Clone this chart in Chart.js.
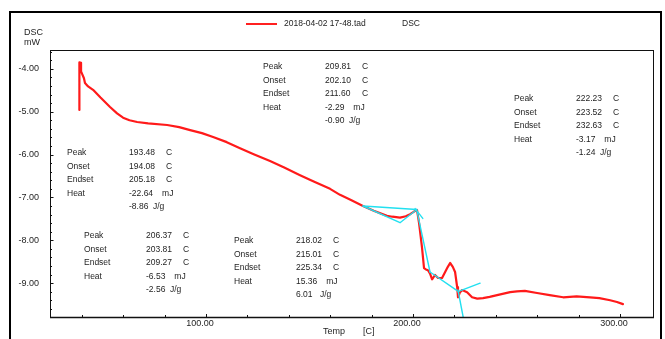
<!DOCTYPE html>
<html>
<head>
<meta charset="utf-8">
<title>DSC 2018-04-02 17-48</title>
<script src="https://cdn.jsdelivr.net/npm/chart.js@4.4.1/dist/chart.umd.min.js"></script>
<style>
  html, body { margin: 0; padding: 0; background: #fff; }
  #wrap { width: 665px; height: 339px; position: relative; }
</style>
</head>
<body>
<div id="wrap"><canvas id="dsc" width="665" height="339"></canvas></div>
<script>
// DSC trace: sample temperature [C] and heat flow [mW]
const tempC = [
  38.8, 38.8, 39.6, 39.6, 41.0, 41.5, 43.0, 45.4, 49.0, 53.6,
  57.0, 59.9, 63.0, 66.7, 72.0, 81.2, 87.0, 92.3, 98.0, 103.4,
  110.0, 116.4, 123.0, 130.9, 138.0, 145.4, 152.0, 159.9, 164.7, 170.0,
  175.8, 181.0, 187.4, 190.0, 193.7, 196.5, 198.6, 200.5, 201.9, 202.9,
  204.3, 205.3, 206.2, 207.2, 208.2, 209.2, 210.6, 212.1, 214.0, 215.5,
  216.8, 217.9, 219.2, 220.3, 221.3, 221.7, 222.6, 223.7, 226.1, 228.5,
  231.0, 233.8, 237.0, 240.6, 246.9, 250.2, 254.0, 259.9, 266.0, 272.5,
  279.0, 285.5, 290.0, 295.2, 298.5, 301.4
];
const dscMw = [
  -4.96, -3.85, -3.86, -4.06, -4.22, -4.33, -4.41, -4.49, -4.67, -4.89,
  -5.04, -5.14, -5.20, -5.24, -5.27, -5.31, -5.36, -5.43, -5.50, -5.59,
  -5.71, -5.85, -5.99, -6.15, -6.31, -6.48, -6.63, -6.80, -6.94, -7.06,
  -7.20, -7.31, -7.43, -7.45, -7.47, -7.44, -7.39, -7.33, -7.29, -7.60,
  -8.16, -8.65, -8.68, -8.70, -8.78, -8.91, -8.81, -8.88, -8.88, -8.74,
  -8.62, -8.53, -8.62, -8.74, -9.09, -9.33, -9.22, -9.16, -9.21, -9.33,
  -9.36, -9.35, -9.32, -9.28, -9.21, -9.19, -9.18, -9.23, -9.28, -9.33,
  -9.31, -9.33, -9.35, -9.40, -9.44, -9.49
];

// Peak-analysis construction lines (baselines and tangents)
const baseA_T = [175.8, 201.8];        const baseA_V = [-7.20, -7.28];
const baseB_T = [175.8, 193.7, 201.8]; const baseB_V = [-7.20, -7.59, -7.28];
const tanC_T  = [201.0, 204.7];        const tanC_V  = [-7.26, -7.49];
const tanD_T  = [201.9, 208.2];        const tanD_V  = [-7.32, -8.74];
const baseE_T = [208.2, 221.1];        const baseE_V = [-8.74, -9.17];
const tanF_T  = [221.7, 224.2];        const tanF_V  = [-9.16, -9.79];
const baseG_T = [221.7, 232.4];        const baseG_V = [-9.20, -9.00];

// Peak analysis results
const peakC   = [193.48, 209.81, 222.23, 206.37, 218.02];
const onsetC  = [194.08, 202.10, 223.52, 203.81, 215.01];
const endsetC = [205.18, 211.60, 232.63, 209.27, 225.34];
const heatMj  = [-22.64, -2.29, -3.17, -6.53, 15.36];
const heatJg  = [-8.86, -0.90, -1.24, -2.56, 6.01];

// Axis ticks
const xMajorTicks = [100, 200, 300];
const yMajorTicks = [-9, -8, -7, -6, -5, -4];

const FONT = '"Liberation Sans", Arial, sans-serif';
const TEXT = '#1e1e1e';

function pairs(xs, ys) { return xs.map((x, i) => ({ x: x, y: ys[i] })); }

const cyanStyle = {
  borderColor: '#22e0f0', borderWidth: 1.4, pointRadius: 0,
  tension: 0, fill: false, order: 0
};

// Result-box placement on the canvas (label column x, first row y)
const boxLayout = [
  { x: 67,  y: 153 },
  { x: 263, y: 67 },
  { x: 514, y: 99 },
  { x: 84,  y: 236 },
  { x: 234, y: 241 }
];

const framePlugin = {
  id: 'frame',
  beforeDraw(chart) {
    const ctx = chart.ctx;
    ctx.save();
    ctx.fillStyle = '#fff';
    ctx.fillRect(0, 0, chart.width, chart.height);
    ctx.restore();
  },
  afterDraw(chart) {
    const ctx = chart.ctx;
    const a = chart.chartArea;
    const xs = chart.scales.x, ys = chart.scales.y;
    ctx.save();

    // outer frame
    ctx.strokeStyle = '#000';
    ctx.lineWidth = 2;
    ctx.strokeRect(10, 12, 651, 340);

    // plot box
    ctx.lineWidth = 1;
    ctx.strokeStyle = '#111';
    ctx.strokeRect(a.left + 0.5, a.top + 0.5, a.right - a.left - 1, a.bottom - a.top);
    ctx.lineWidth = 1.6;
    ctx.beginPath();
    ctx.moveTo(a.left, a.bottom + 0.5);
    ctx.lineTo(a.right, a.bottom + 0.5);
    ctx.stroke();

    // inward tick marks
    ctx.lineWidth = 1;
    ctx.strokeStyle = '#111';
    ctx.beginPath();
    for (let k = -49; k <= -17; k++) {
      const v = k / 5;
      if (v < ys.min || v > ys.max) continue;
      const py = Math.round(ys.getPixelForValue(v)) + 0.5;
      const len = (k % 5 === 0) ? 3.5 : 2;
      ctx.moveTo(a.left, py);
      ctx.lineTo(a.left + len, py);
    }
    for (let t = 40; t <= 300; t += 20) {
      const px = Math.round(xs.getPixelForValue(t)) + 0.5;
      const len = (t % 100 === 0) ? 3 : 2;
      ctx.moveTo(px, a.bottom);
      ctx.lineTo(px, a.bottom - len);
    }
    ctx.stroke();

    // axis titles
    ctx.fillStyle = TEXT;
    ctx.font = '9px ' + FONT;
    ctx.textBaseline = 'middle';
    ctx.textAlign = 'left';
    ctx.fillText('DSC', 24, 33);
    ctx.fillText('mW', 24, 43);
    ctx.fillText('Temp', 323, 332);
    ctx.fillText('[C]', 363, 332);

    // legend
    ctx.strokeStyle = '#ff2020';
    ctx.lineWidth = 2;
    ctx.beginPath();
    ctx.moveTo(246, 24);
    ctx.lineTo(277, 24);
    ctx.stroke();
    ctx.font = '8.5px ' + FONT;
    ctx.fillText('2018-04-02 17-48.tad', 284, 24);
    ctx.fillText('DSC', 402, 24);

    // peak result boxes
    const dy = 13.4;
    const vOff = 62;
    peakC.forEach((p, i) => {
      const L = boxLayout[i];
      const vx = L.x + vOff;
      const rows = [
        ['Peak',   p.toFixed(2),          'C'],
        ['Onset',  onsetC[i].toFixed(2),  'C'],
        ['Endset', endsetC[i].toFixed(2), 'C'],
        ['Heat',   heatMj[i].toFixed(2),  'mJ'],
        ['',       heatJg[i].toFixed(2),  'J/g']
      ];
      rows.forEach((r, j) => {
        const y = L.y + j * dy;
        if (r[0]) ctx.fillText(r[0], L.x, y);
        ctx.fillText(r[1], vx, y);
        let ux;
        if (r[2] === 'C') ux = vx + 37;
        else if (r[2] === 'mJ') ux = vx + ctx.measureText(r[1]).width + 9;
        else ux = vx + 24;
        ctx.fillText(r[2], ux, y);
      });
    });

    ctx.restore();
  }
};

new Chart(document.getElementById('dsc'), {
  type: 'line',
  data: {
    datasets: [
      Object.assign({ data: pairs(baseA_T, baseA_V) }, cyanStyle),
      Object.assign({ data: pairs(baseB_T, baseB_V) }, cyanStyle),
      Object.assign({ data: pairs(tanC_T, tanC_V) }, cyanStyle),
      Object.assign({ data: pairs(tanD_T, tanD_V) }, cyanStyle),
      Object.assign({ data: pairs(baseE_T, baseE_V) }, cyanStyle),
      Object.assign({ data: pairs(tanF_T, tanF_V) }, cyanStyle),
      Object.assign({ data: pairs(baseG_T, baseG_V) }, cyanStyle),
      {
        label: 'DSC',
        data: pairs(tempC, dscMw),
        borderColor: '#ff1a1a',
        borderWidth: 2.2,
        pointRadius: 0,
        tension: 0,
        fill: false,
        order: 1
      }
    ]
  },
  options: {
    responsive: false,
    animation: false,
    devicePixelRatio: 1,
    layout: { padding: { left: 0, top: 50, right: 11, bottom: 0 } },
    plugins: { legend: { display: false }, tooltip: { enabled: false } },
    elements: { line: { borderJoinStyle: 'round', borderCapStyle: 'round' } },
    scales: {
      x: {
        type: 'linear',
        min: 24.6,
        max: 316.4,
        grid: { display: false, drawTicks: false },
        border: { display: false },
        afterBuildTicks(scale) { scale.ticks = xMajorTicks.map(v => ({ value: v })); },
        afterFit(scale) { scale.height = 22; },
        ticks: {
          padding: 1,
          labelOffset: -6,
          maxRotation: 0,
          autoSkip: false,
          color: TEXT,
          font: { family: FONT, size: 9 },
          callback: v => Number(v).toFixed(2)
        }
      },
      y: {
        type: 'linear',
        min: -9.79,
        max: -3.56,
        grid: { display: false, drawTicks: false },
        border: { display: false },
        afterBuildTicks(scale) { scale.ticks = yMajorTicks.map(v => ({ value: v })); },
        afterFit(scale) { scale.width = 50; },
        ticks: {
          padding: 11,
          autoSkip: false,
          color: TEXT,
          font: { family: FONT, size: 9 },
          callback: v => Number(v).toFixed(2)
        }
      }
    }
  },
  plugins: [framePlugin]
});
</script>
</body>
</html>
